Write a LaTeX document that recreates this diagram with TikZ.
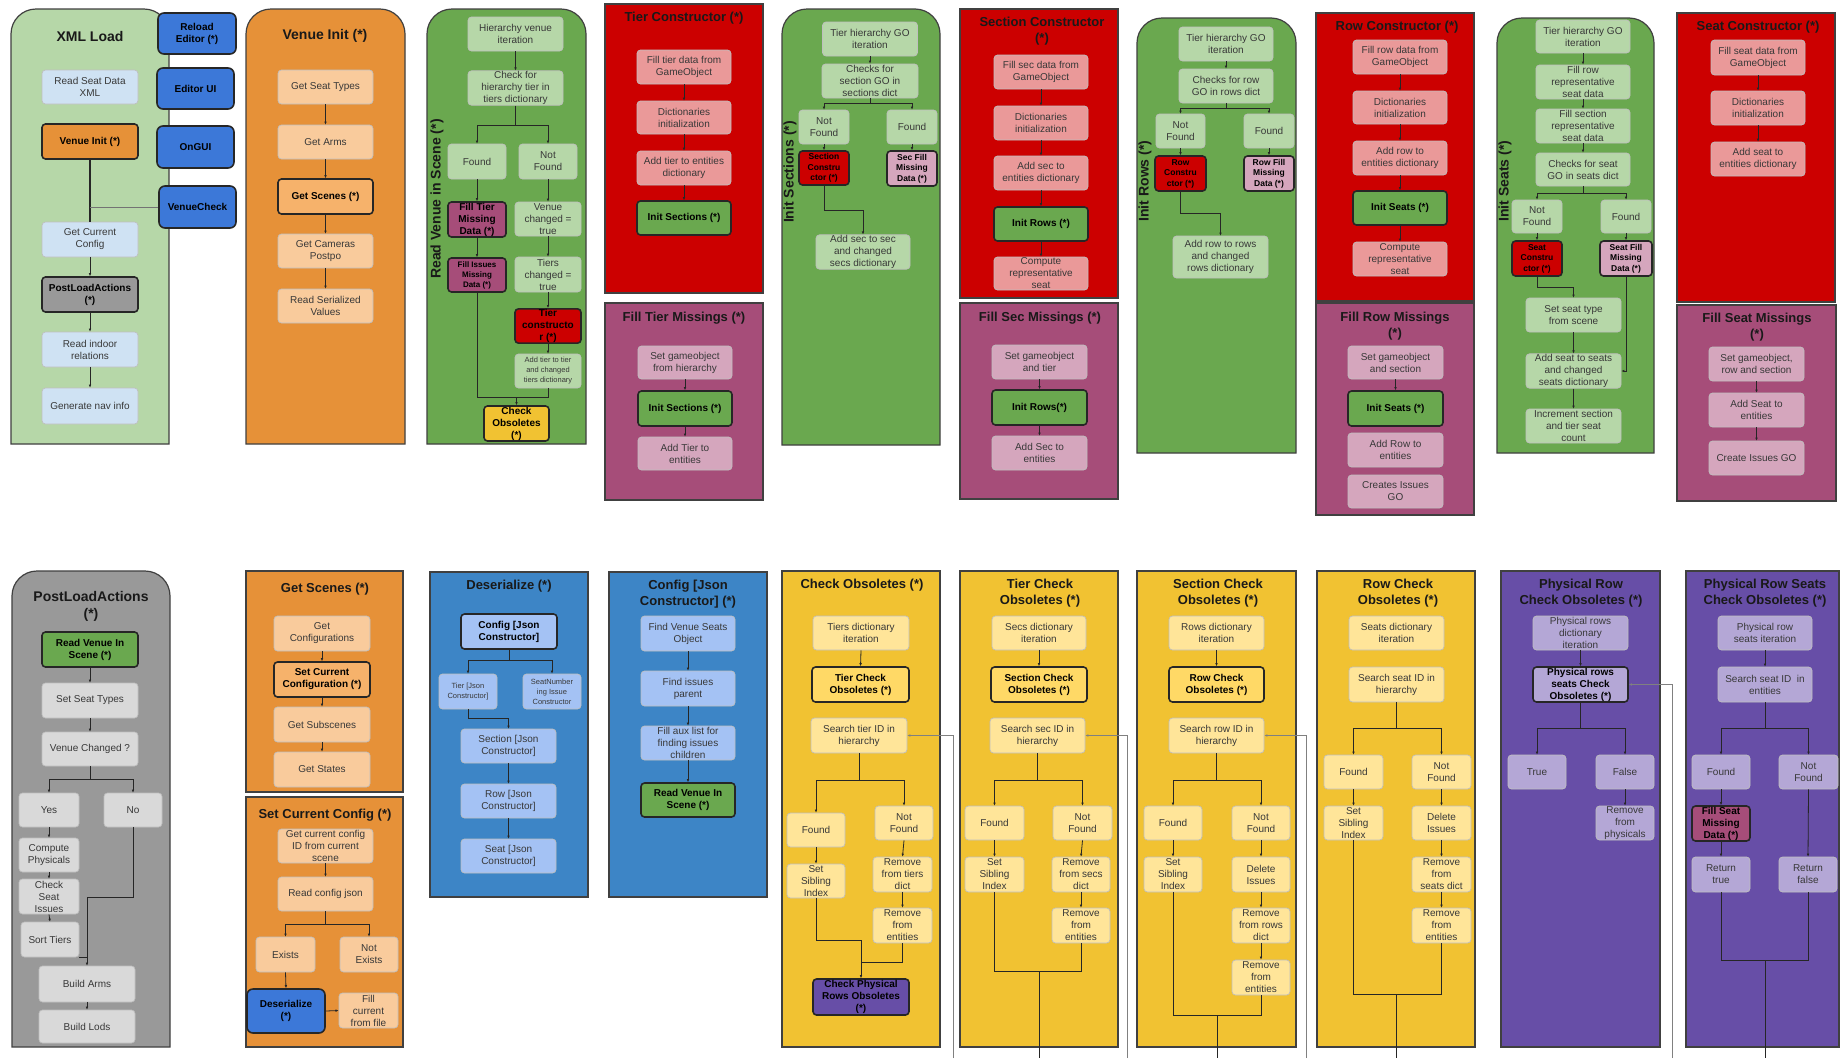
\documentclass[tikz,border=0pt]{standalone}
\usepackage{fontspec}
\setmainfont{Liberation Sans}
\usetikzlibrary{arrows.meta}
\definecolor{cLG}{HTML}{B6D7A8}
\definecolor{cG}{HTML}{6AA84F}
\definecolor{cO}{HTML}{E69138}
\definecolor{cLO}{HTML}{F9CB9C}
\definecolor{cMO}{HTML}{F6B26B}
\definecolor{cR}{HTML}{CC0000}
\definecolor{cLR}{HTML}{EA9999}
\definecolor{cM}{HTML}{A64D79}
\definecolor{cLM}{HTML}{D5A6BD}
\definecolor{cGr}{HTML}{999999}
\definecolor{cLGr}{HTML}{D9D9D9}
\definecolor{cB}{HTML}{3C78D8}
\definecolor{cBc}{HTML}{3D85C6}
\definecolor{cLB}{HTML}{A4C2F4}
\definecolor{cPB}{HTML}{CFE2F3}
\definecolor{cY}{HTML}{F1C232}
\definecolor{cLY}{HTML}{FFE599}
\definecolor{cMY}{HTML}{FFD966}
\definecolor{cP}{HTML}{674EA7}
\definecolor{cLP}{HTML}{B4A7D6}
\newcommand\rcont[5]{\draw[cont,fill=#5] (#1,#4) -- (#1,#2+25) arc[start angle=180,end angle=90,radius=25pt] -- (#3-25,#2) arc[start angle=90,end angle=0,radius=25pt] -- (#3,#4) -- cycle;}
\newcommand\scont[5]{\draw[cont,fill=#5] (#1,#2) rectangle (#3,#4);}
\tikzset{
 cont/.style={draw=black!75, line width=1.2pt},
 ttl/.style={font=\bfseries\fontsize{13}{16}\selectfont, align=center, text=black!90, inner sep=0pt},
 ttlL/.style={ttl, font=\bfseries\fontsize{14}{17}\selectfont},
 rttl/.style={ttl, font=\bfseries\fontsize{14}{17}\selectfont, rotate=90},
 bx/.style={rounded corners=3.5pt, draw=black!25, line width=0.7pt, align=center, inner sep=0.5pt, text=black!78, font=\fontsize{10}{12}\selectfont},
 bb/.style={bx, draw=black!85, line width=1.6pt, text=black, font=\bfseries\fontsize{10}{12}\selectfont},
 bbl/.style={bb, rounded corners=6pt},
 sz/.style 2 args={minimum width=#1pt, minimum height=#2pt},
 fs8/.style={font=\fontsize{7.5}{10}\selectfont},
 bfs9/.style={font=\bfseries\fontsize{8.5}{10.5}\selectfont},
 bfs8/.style={font=\bfseries\fontsize{8}{10}\selectfont},
 ln/.style={draw=black!85, line width=0.8pt},
 arr/.style={ln, -{Latex[length=3pt,width=2.6pt]}},
 exl/.style={draw=black!50, line width=0.8pt, -{Latex[length=3pt,width=2.6pt]}},
}
\begin{document}
\begin{tikzpicture}[x=1pt,y=-1pt]
\fill[white] (0,0) rectangle (1841,1058);
\useasboundingbox (0,0) rectangle (1841,1058);
% ---------- containers ----------
\rcont{11}{9}{169}{444}{cLG}
\rcont{246}{9}{405}{444}{cO}
\rcont{427}{9}{586}{444}{cG}
\scont{605}{4}{763}{293}{cR}
\scont{605}{303}{763}{500}{cM}
\rcont{782}{9}{940}{445}{cG}
\scont{960}{9}{1118}{298}{cR}
\scont{960}{303}{1118}{499}{cM}
\rcont{1137}{18}{1296}{453}{cG}
\scont{1316}{13}{1474}{301}{cR}
\scont{1316}{303}{1474}{515}{cM}
\rcont{1497}{18}{1654}{453}{cG}
\scont{1677}{13}{1835}{302}{cR}
\scont{1677}{305}{1836}{501}{cM}
\rcont{12}{571}{170}{1047}{cGr}
\scont{246}{571}{403}{792}{cO}
\scont{246}{797}{403}{1047}{cO}
\scont{430}{572}{588}{897}{cBc}
\scont{609}{572}{767}{897}{cBc}
\scont{782}{571}{940}{1047}{cY}
\scont{960}{571}{1118}{1047}{cY}
\scont{1137}{571}{1296}{1047}{cY}
\scont{1317}{571}{1475}{1047}{cY}
\scont{1501}{571}{1660}{1047}{cP}
\scont{1686}{571}{1839}{1047}{cP}
% ---------- titles ----------
\node[ttlL] (tXML) at (90,36) {XML Load};
\node[ttlL] (tVI) at (325,36) {Venue Init (*)};
\node[rttl] (tRV) at (437,199) {Read Venue in Scene (*)};
\node[ttl] (tTC) at (684,18) {Tier Constructor (*)};
\node[ttl] (tFT) at (684,318) {Fill Tier Missings (*)};
\node[rttl] (tIS) at (790,172) {Init Sections (*)};
\node[ttl] (tSC) at (1042,31) {Section Constructor\\(*)};
\node[ttl] (tFS) at (1040,318) {Fill Sec Missings (*)};
\node[rttl] (tIR) at (1145,181) {Init Rows (*)};
\node[ttl] (tRC) at (1397,27) {Row Constructor (*)};
\node[ttl] (tFR) at (1395,326) {Fill Row Missings\\(*)};
\node[rttl] (tISe) at (1505,181) {Init Seats (*)};
\node[ttl] (tSeC) at (1758,27) {Seat Constructor (*)};
\node[ttl] (tFSe) at (1757,327) {Fill Seat Missings\\(*)};
\node[ttlL] (tPL) at (91,606) {PostLoadActions\\(*)};
\node[ttl] (tGS) at (325,589) {Get Scenes (*)};
\node[ttl] (tSCC) at (325,815) {Set Current Config (*)};
\node[ttl] (tDS) at (509,586) {Deserialize (*)};
\node[ttl] (tCJ) at (688,594) {Config [Json\\Constructor] (*)};
\node[ttl] (tCO) at (862,585) {Check Obsoletes (*)};
\node[ttl] (tTCO) at (1040,593) {Tier Check\\Obsoletes (*)};
\node[ttl] (tSCO) at (1218,593) {Section Check\\Obsoletes (*)};
\node[ttl] (tRCO) at (1398,593) {Row Check\\Obsoletes (*)};
\node[ttl] (tPR) at (1581,593) {Physical Row\\Check Obsoletes (*)};
\node[ttl] (tPRS) at (1765,593) {Physical Row Seats\\Check Obsoletes (*)};
% ---------- XML Load ----------
\node[bx,fill=cPB,sz={96}{34}] (rsd) at (90,87) {Read Seat Data\\XML};
\node[bb,fill=cO,sz={96}{35}] (vinit) at (90,141.5) {Venue Init (*)};
\node[bx,fill=cPB,sz={96}{35}] (gcc) at (90,239.5) {Get Current\\Config};
\node[bb,fill=cGr,sz={96}{35}] (pla) at (90,294.5) {PostLoadActions\\(*)};
\node[bx,fill=cPB,sz={96}{35}] (rir) at (90,349.5) {Read indoor\\relations};
\node[bx,fill=cPB,sz={96}{36}] (gni) at (90,406) {Generate nav info};
\node[bbl,fill=cB,sz={78}{41}] (reload) at (197,33.5) {Reload\\Editor (*)};
\node[bbl,fill=cB,sz={77}{41}] (edui) at (195.5,88.5) {Editor UI};
\node[bbl,fill=cB,sz={77}{42}] (ongui) at (195.5,147) {OnGUI};
\node[bbl,fill=cB,sz={77}{42}] (vcheck) at (197.5,207) {VenueCheck};
\draw[ln, line width=1.2pt] (vinit.south) -- (gcc.north);
\draw[ln, draw=black!55] (vcheck.west) -- (vinit.south |- vcheck.west);
\draw[arr] (gcc.south) -- (pla.north);
\draw[arr] (pla.south) -- (rir.north);
\draw[arr] (rir.south) -- (gni.north);
% ---------- Venue Init ----------
\node[bx,fill=cLO,sz={95}{34}] (gst) at (325.5,87) {Get Seat Types};
\node[bx,fill=cLO,sz={95}{34}] (garm) at (325.5,142) {Get Arms};
\node[bb,fill=cMO,sz={95}{35}] (gsc) at (325.5,196.5) {Get Scenes (*)};
\node[bx,fill=cLO,sz={95}{34}] (gcam) at (325.5,251) {Get Cameras\\Postpo};
\node[bx,fill=cLO,sz={95}{34}] (rsv) at (325.5,306) {Read Serialized\\Values};
\draw[arr] (gst.south) -- (garm.north);
\draw[arr] (garm.south) -- (gsc.north);
\draw[arr] (gsc.south) -- (gcam.north);
\draw[arr] (gcam.south) -- (rsv.north);
% ---------- Read Venue in Scene ----------
\node[bx,fill=cLG,sz={95}{34}] (hvi) at (515.5,34) {Hierarchy venue\\iteration};
\node[bx,fill=cLG,sz={95}{34}] (chk) at (515.5,88) {Check for\\hierarchy tier in\\tiers dictionary};
\node[bx,fill=cLG,sz={58}{35}] (rfound) at (477,161.5) {Found};
\node[bx,fill=cLG,sz={58}{35}] (rnfound) at (548,161.5) {Not\\Found};
\node[bb,fill=cM,sz={58}{35}] (ftmd) at (477,219.5) {Fill Tier\\Missing\\Data (*)};
\node[bb,bfs8,fill=cM,sz={58}{34}] (fimd) at (477,275) {Fill Issues\\Missing\\Data (*)};
\node[bx,fill=cLG,sz={66}{34}] (vct) at (548,219) {Venue\\changed =\\true};
\node[bx,fill=cLG,sz={66}{35}] (tct) at (548,274.5) {Tiers\\changed =\\true};
\node[bb,fill=cR,sz={66}{34}] (tcons) at (548,326) {Tier\\constructo\\r (*)};
\node[bx,fs8,fill=cLG,sz={66}{34}] (atct) at (548,371) {Add tier to tier\\and changed\\tiers dictionary};
\node[bb,fill=cY,sz={65}{35}] (cobs) at (516.5,423.5) {Check\\Obsoletes\\(*)};
\coordinate (rvs) at (515.5,125);
\coordinate (rvj) at (516.5,397);
\draw[arr] (hvi.south) -- (chk.north);
\draw[arr] (chk.south) |- (rvs) -| (rfound.north);
\draw[arr] (rvs) -| (rnfound.north);
\draw[arr] (rfound.south) -- (ftmd.north);
\draw[arr] (ftmd.south) -- (fimd.north);
\draw[ln] (fimd.south) |- (rvj);
\draw[arr] (rnfound.south) -- (vct.north);
\draw[arr] (vct.south) -- (tct.north);
\draw[arr] (tct.south) -- (tcons.north);
\draw[arr] (tcons.south) -- (atct.north);
\draw[ln] (atct.south) |- (rvj);
\draw[arr] (rvj) -- (cobs.north);
% ---------- Tier Constructor ----------
\node[bx,fill=cLR,sz={94}{34}] (ftd) at (684,67) {Fill tier data from\\GameObject};
\node[bx,fill=cLR,sz={94}{33}] (tdi) at (684,117.5) {Dictionaries\\initialization};
\node[bx,fill=cLR,sz={94}{34}] (atte) at (684,168) {Add tier to entities\\dictionary};
\node[bb,fill=cG,sz={94}{34}] (tis) at (684,218) {Init Sections (*)};
\draw[arr] (ftd.south) -- (tdi.north);
\draw[arr] (tdi.south) -- (atte.north);
\draw[arr] (atte.south) -- (tis.north);
% ---------- Fill Tier Missings ----------
\node[bx,fill=cLM,sz={94}{33}] (ftsg) at (685,362.5) {Set gameobject\\from hierarchy};
\node[bb,fill=cG,sz={94}{35}] (ftis) at (685,408.5) {Init Sections (*)};
\node[bx,fill=cLM,sz={94}{33}] (ftat) at (685,453.5) {Add Tier to\\entities};
\draw[arr] (ftsg.south) -- (ftis.north);
\draw[arr] (ftis.south) -- (ftat.north);
% ---------- Init Sections ----------
\node[bx,fill=cLG,sz={95}{34}] (isth) at (870,39) {Tier hierarchy GO\\iteration};
\node[bx,fill=cLG,sz={96}{34}] (ischk) at (870,81) {Checks for\\section GO in\\sections dict};
\node[bx,fill=cLG,sz={50}{34}] (isnf) at (824,127) {Not\\Found};
\node[bx,fill=cLG,sz={50}{34}] (isf) at (912,127) {Found};
\node[bb,bfs9,fill=cR,sz={50}{34}] (issc) at (824,168) {Section\\Constru\\ctor (*)};
\node[bb,bfs9,fill=cLM,sz={50}{35}] (issf) at (912,168.5) {Sec Fill\\Missing\\Data (*)};
\node[bx,fill=cLG,sz={94}{34}] (isadd) at (863,252) {Add sec to sec\\and changed\\secs dictionary};
\coordinate (iss) at (870,103);
\coordinate (isb) at (824,210);
\draw[arr] (isth.south) -- (ischk.north);
\draw[arr] (ischk.south) |- (iss) -| (isnf.north);
\draw[arr] (iss) -| (isf.north);
\draw[arr] (isnf.south) -- (issc.north);
\draw[arr] (isf.south) -- (issf.north);
\draw[arr] (issc.south) |- (isb) -| (isadd.north);
% ---------- Section Constructor ----------
\node[bx,fill=cLR,sz={94}{34}] (sfd) at (1041,72) {Fill sec data from\\GameObject};
\node[bx,fill=cLR,sz={94}{34}] (sdi) at (1041,123) {Dictionaries\\initialization};
\node[bx,fill=cLR,sz={94}{34}] (sae) at (1041,173) {Add sec to\\entities dictionary};
\node[bb,fill=cG,sz={94}{34}] (sir) at (1041,224) {Init Rows (*)};
\node[bx,fill=cLR,sz={94}{33}] (scr) at (1041,273.5) {Compute\\representative\\seat};
\draw[arr] (sfd.south) -- (sdi.north);
\draw[arr] (sdi.south) -- (sae.north);
\draw[arr] (sae.south) -- (sir.north);
\draw[arr] (sir.south) -- (scr.north);
% ---------- Fill Sec Missings ----------
\node[bx,fill=cLM,sz={95}{34}] (fsg) at (1039.5,362) {Set gameobject\\and tier};
\node[bb,fill=cG,sz={95}{35}] (fsir) at (1039.5,407.5) {Init Rows(*)};
\node[bx,fill=cLM,sz={95}{34}] (fsas) at (1039.5,453) {Add Sec to\\entities};
\draw[arr] (fsg.south) -- (fsir.north);
\draw[arr] (fsir.south) -- (fsas.north);
% ---------- Init Rows ----------
\node[bx,fill=cLG,sz={94}{34}] (irth) at (1226,44) {Tier hierarchy GO\\iteration};
\node[bx,fill=cLG,sz={94}{34}] (irchk) at (1226,86) {Checks for row\\GO in rows dict};
\node[bx,fill=cLG,sz={49}{34}] (irnf) at (1180.5,131) {Not\\Found};
\node[bx,fill=cLG,sz={50}{34}] (irf) at (1269,131) {Found};
\node[bb,bfs9,fill=cR,sz={51}{35}] (irrc) at (1180.5,173.5) {Row\\Constru\\ctor (*)};
\node[bb,bfs9,fill=cLM,sz={50}{35}] (irfm) at (1269,173.5) {Row Fill\\Missing\\Data (*)};
\node[bx,fill=cLG,sz={95}{42}] (iradd) at (1220.5,257) {Add row to rows\\and changed\\rows dictionary};
\coordinate (irs) at (1226,108);
\coordinate (irb) at (1180.5,213);
\draw[arr] (irth.south) -- (irchk.north);
\draw[arr] (irchk.south) |- (irs) -| (irnf.north);
\draw[arr] (irs) -| (irf.north);
\draw[arr] (irnf.south) -- (irrc.north);
\draw[arr] (irf.south) -- (irfm.north);
\draw[arr] (irrc.south) |- (irb) -| (iradd.north);
% ---------- Row Constructor ----------
\node[bx,fill=cLR,sz={94}{34}] (rfd) at (1400,57) {Fill row data from\\GameObject};
\node[bx,fill=cLR,sz={94}{33}] (rdi) at (1400,107.5) {Dictionaries\\initialization};
\node[bx,fill=cLR,sz={94}{34}] (rae) at (1400,158) {Add row to\\entities dictionary};
\node[bb,fill=cG,sz={94}{34}] (ris) at (1400,208) {Init Seats (*)};
\node[bx,fill=cLR,sz={94}{34}] (rcr) at (1400,259) {Compute\\representative\\seat};
\draw[arr] (rfd.south) -- (rdi.north);
\draw[arr] (rdi.south) -- (rae.north);
\draw[arr] (rae.south) -- (ris.north);
\draw[arr] (ris.south) -- (rcr.north);
% ---------- Fill Row Missings ----------
\node[bx,fill=cLM,sz={95}{33}] (frg) at (1395.5,362.5) {Set gameobject\\and section};
\node[bb,fill=cG,sz={95}{35}] (fris) at (1395.5,408.5) {Init Seats (*)};
\node[bx,fill=cLM,sz={95}{34}] (frar) at (1395.5,450) {Add Row to\\entities};
\node[bx,fill=cLM,sz={95}{33}] (frci) at (1395.5,491.5) {Creates Issues\\GO};
\draw[arr] (frg.south) -- (fris.north);
% ---------- Init Seats ----------
\node[bx,fill=cLG,sz={94}{33}] (sth) at (1583,36.5) {Tier hierarchy GO\\iteration};
\node[bx,fill=cLG,sz={94}{34}] (sfr) at (1583,82) {Fill row\\representative\\seat data};
\node[bx,fill=cLG,sz={94}{34}] (sfs) at (1583,126) {Fill section\\representative\\seat data};
\node[bx,fill=cLG,sz={94}{33}] (schk) at (1583,169.5) {Checks for seat\\GO in seats dict};
\node[bx,fill=cLG,sz={50}{33}] (snf) at (1537,216.5) {Not\\Found};
\node[bx,fill=cLG,sz={50}{33}] (sf) at (1626,216.5) {Found};
\node[bb,bfs9,fill=cR,sz={50}{35}] (ssc) at (1537,258.5) {Seat\\Constru\\ctor (*)};
\node[bb,bfs9,fill=cLM,sz={52}{35}] (ssf) at (1626,258.5) {Seat Fill\\Missing\\Data (*)};
\node[bx,fill=cLG,sz={95}{34}] (sst) at (1573.5,315) {Set seat type\\from scene};
\node[bx,fill=cLG,sz={95}{34}] (sas) at (1573.5,371) {Add seat to seats\\and changed\\seats dictionary};
\node[bx,fill=cLG,sz={95}{34}] (sinc) at (1573.5,426) {Increment section\\and tier seat\\count};
\coordinate (sss) at (1583,193);
\coordinate (ssb) at (1537,287);
\draw[arr] (sth.south) -- (sfr.north);
\draw[arr] (sfr.south) -- (sfs.north);
\draw[arr] (sfs.south) -- (schk.north);
\draw[arr] (schk.south) |- (sss) -| (snf.north);
\draw[arr] (sss) -| (sf.north);
\draw[arr] (snf.south) -- (ssc.north);
\draw[arr] (sf.south) -- (ssf.north);
\draw[arr] (ssc.south) |- (ssb) -| (sst.north);
\draw[arr] (sst.south) -- (sas.north);
\draw[arr] (sas.south) -- (sinc.north);
\draw[arr] (ssf.south) |- (sas.east);
% ---------- Seat Constructor ----------
\node[bx,fill=cLR,sz={94}{35}] (sefd) at (1758,57.5) {Fill seat data from\\GameObject};
\node[bx,fill=cLR,sz={94}{34}] (sedi) at (1758,108) {Dictionaries\\initialization};
\node[bx,fill=cLR,sz={94}{34}] (seae) at (1758,159) {Add seat to\\entities dictionary};
\draw[arr] (sefd.south) -- (sedi.north);
\draw[arr] (sedi.south) -- (seae.north);
% ---------- Fill Seat Missings ----------
\node[bx,fill=cLM,sz={95}{34}] (fseg) at (1756.5,364) {Set gameobject,\\row and section};
\node[bx,fill=cLM,sz={95}{34}] (fsea) at (1756.5,410) {Add Seat to\\entities};
\node[bx,fill=cLM,sz={95}{34}] (fsec) at (1756.5,458) {Create Issues GO};
\draw[arr] (fseg.south) -- (fsea.north);
\draw[arr] (fsea.south) -- (fsec.north);
% ---------- PostLoadActions ----------
\node[bb,fill=cG,sz={96}{35}] (prv) at (90,649.5) {Read Venue In\\Scene (*)};
\node[bx,fill=cLGr,sz={96}{35}] (psst) at (90,700.5) {Set Seat Types};
\node[bx,fill=cLGr,sz={96}{34}] (pvc) at (90,749) {Venue Changed ?};
\node[bx,fill=cLGr,sz={60}{34}] (pyes) at (49,810) {Yes};
\node[bx,fill=cLGr,sz={58}{34}] (pno) at (133,810) {No};
\node[bx,fill=cLGr,sz={60}{34}] (pcp) at (49,855) {Compute\\Physicals};
\node[bx,fill=cLGr,sz={60}{35}] (pcsi) at (49,896.5) {Check\\Seat\\Issues};
\node[bx,fill=cLGr,sz={58}{35}] (pst) at (50,939.5) {Sort Tiers};
\node[bx,fill=cLGr,sz={96}{36}] (pba) at (87,984) {Build Arms};
\node[bx,fill=cLGr,sz={96}{33}] (pbl) at (87,1026.5) {Build Lods};
\coordinate (pls) at (90,779);
\coordinate (plb) at (133,897);
\draw[arr] (prv.south) -- (psst.north);
\draw[arr] (psst.south) -- (pvc.north);
\draw[arr] (pvc.south) |- (pls) -| (pyes.north);
\draw[arr] (pls) -| (pno.north);
\draw[arr] (pyes.south) -- (pcp.north);
\draw[arr] (pcp.south) -- (pcsi.north);
\draw[arr] (pcsi.south) -- (pst.north);
\draw[arr] (pno.south) |- (plb) -| (pba.north);
\draw[ln] (pst.south east) -- (pba.north |- pst.south east);
\draw[arr] (pba.south) -- (pbl.north);
% ---------- Get Scenes ----------
\node[bx,fill=cLO,sz={96}{35}] (gsgc) at (322,633.5) {Get\\Configurations};
\node[bb,fill=cMO,sz={96}{35}] (gsscc) at (322,679.5) {Set Current\\Configuration (*)};
\node[bx,fill=cLO,sz={96}{35}] (gsgs) at (322,724.5) {Get Subscenes};
\node[bx,fill=cLO,sz={96}{35}] (gsst) at (322,769.5) {Get States};
\draw[arr] (gsgc.south) -- (gsscc.north);
\draw[arr] (gsscc.south) -- (gsgs.north);
\draw[arr] (gsgs.south) -- (gsst.north);
% ---------- Set Current Config ----------
\node[bx,fill=cLO,sz={95}{34}] (sccg) at (325.5,846) {Get current config\\ID from current\\scene};
\node[bx,fill=cLO,sz={95}{34}] (scrj) at (325.5,894) {Read config json};
\node[bx,fill=cLO,sz={59}{35}] (scex) at (285.5,954.5) {Exists};
\node[bx,fill=cLO,sz={58}{35}] (scne) at (369,954.5) {Not\\Exists};
\node[bbl,fill=cB,sz={78}{44}] (scds) at (286,1011) {Deserialize\\(*)};
\node[bx,fill=cLO,sz={59}{35}] (scfc) at (368.5,1010.5) {Fill\\current\\from file};
\coordinate (scs) at (325.5,924);
\draw[arr] (sccg.south) -- (scrj.north);
\draw[arr] (scrj.south) |- (scs) -| (scex.north);
\draw[arr] (scs) -| (scne.north);
\draw[arr] (scex.south) -- (scds.north);
\draw[arr] (scds.east) -- (scfc.west);
% ---------- Deserialize ----------
\node[bb,fill=cLB,sz={96}{35}] (dcfg) at (509,631.5) {Config [Json\\Constructor]};
\node[bx,fs8,fill=cLB,sz={58}{35}] (dtier) at (468,691.5) {Tier [Json\\Constructor]};
\node[bx,fs8,fill=cLB,sz={58}{35}] (dsni) at (552,691.5) {SeatNumber\\ing Issue\\Constructor};
\node[bx,fill=cLB,sz={95}{34}] (dsec) at (508.5,746) {Section [Json\\Constructor]};
\node[bx,fill=cLB,sz={95}{34}] (drow) at (508.5,801) {Row [Json\\Constructor]};
\node[bx,fill=cLB,sz={95}{34}] (dseat) at (508.5,856) {Seat [Json\\Constructor]};
\coordinate (dss) at (509,660);
\coordinate (dtb) at (468,718);
\draw[ln] (dcfg.south) -- (dss);
\draw[arr] (dss) -| (dtier.north);
\draw[arr] (dss) -| (dsni.north);
\draw[arr] (dtier.south) |- (dtb) -| (dsec.north);
\draw[arr] (dsec.south) -- (drow.north);
\draw[arr] (drow.south) -- (dseat.north);
% ---------- Config [Json Constructor] ----------
\node[bx,fill=cLB,sz={94}{35}] (cfv) at (688,633.5) {Find Venue Seats\\Object};
\node[bx,fill=cLB,sz={94}{35}] (cfi) at (688,688.5) {Find issues\\parent};
\node[bx,fill=cLB,sz={94}{34}] (cfa) at (688,743) {Fill aux list for\\finding issues\\children};
\node[bb,fill=cG,sz={94}{34}] (crv) at (688,800) {Read Venue In\\Scene (*)};
\draw[arr] (cfv.south) -- (cfi.north);
\draw[arr] (cfi.south) -- (cfa.north);
\draw[arr] (cfa.south) -- (crv.north);
% ---------- Check Obsoletes ----------
\node[bx,fill=cLY,sz={96}{34}] (cotd) at (861,633) {Tiers dictionary\\iteration};
\node[bb,fill=cMY,sz={97}{35}] (cotc) at (860.5,684.5) {Tier Check\\Obsoletes (*)};
\node[bx,fill=cLY,sz={96}{35}] (cost) at (859,735.5) {Search tier ID in\\hierarchy};
\node[bx,fill=cLY,sz={58}{34}] (cof) at (816,830) {Found};
\node[bx,fill=cLY,sz={58}{34}] (conf) at (904,823) {Not\\Found};
\node[bx,fill=cLY,sz={58}{34}] (cosi) at (816,881) {Set\\Sibling\\Index};
\node[bx,fill=cLY,sz={59}{35}] (cort) at (902.5,874.5) {Remove\\from tiers\\dict};
\node[bx,fill=cLY,sz={59}{35}] (core) at (902.5,925.5) {Remove\\from\\entities};
\node[bb,fill=cP,sz={96}{36}] (copr) at (861,997) {Check Physical\\Rows Obsoletes\\(*)};
\coordinate (cos) at (859,780);
\coordinate (coj1) at (861,940);
\coordinate (coj2) at (861,962);
\coordinate (coe) at (953,1058);
\draw[arr] (cotd.south) -- (cotc.north);
\draw[arr] (cost.south) |- (cos) -| (cof.north);
\draw[arr] (cos) -| (conf.north);
\draw[arr] (cof.south) -- (cosi.north);
\draw[arr] (conf.south) -- (cort.north);
\draw[arr] (cort.south) -- (core.north);
\draw[ln] (cosi.south) |- (coj1);
\draw[arr] (coj1) -- (copr.north);
\draw[ln] (core.south) |- (coj2);
\draw[exl] (coe) |- (cost.east);
% ---------- Tier Check Obsoletes ----------
\node[bx,fill=cLY,sz={94}{34}] (tcsd) at (1039,633) {Secs dictionary\\iteration};
\node[bb,fill=cMY,sz={96}{35}] (tcsc) at (1039,684.5) {Section Check\\Obsoletes (*)};
\node[bx,fill=cLY,sz={95}{35}] (tcss) at (1037.5,735.5) {Search sec ID in\\hierarchy};
\node[bx,fill=cLY,sz={59}{34}] (tcf) at (994.5,823) {Found};
\node[bx,fill=cLY,sz={59}{34}] (tcnf) at (1082.5,823) {Not\\Found};
\node[bx,fill=cLY,sz={59}{35}] (tcsi) at (994.5,874.5) {Set\\Sibling\\Index};
\node[bx,fill=cLY,sz={58}{35}] (tcrs) at (1081,874.5) {Remove\\from secs\\dict};
\node[bx,fill=cLY,sz={58}{35}] (tcre) at (1081,925.5) {Remove\\from\\entities};
\coordinate (tcs) at (1037.5,780);
\coordinate (tcj) at (1039,971);
\coordinate (tcb) at (1039,1058);
\coordinate (tce) at (1127,1058);
\draw[arr] (tcsd.south) -- (tcsc.north);
\draw[arr] (tcss.south) |- (tcs) -| (tcf.north);
\draw[arr] (tcs) -| (tcnf.north);
\draw[arr] (tcf.south) -- (tcsi.north);
\draw[arr] (tcnf.south) -- (tcrs.north);
\draw[arr] (tcrs.south) -- (tcre.north);
\draw[ln] (tcsi.south) |- (tcj);
\draw[ln] (tcre.south) |- (tcj);
\draw[ln] (tcj) -- (tcb);
\draw[exl] (tce) |- (tcss.east);
% ---------- Section Check Obsoletes ----------
\node[bx,fill=cLY,sz={95}{34}] (xrd) at (1216.5,633) {Rows dictionary\\iteration};
\node[bb,fill=cMY,sz={95}{35}] (xrc) at (1216.5,684.5) {Row Check\\Obsoletes (*)};
\node[bx,fill=cLY,sz={95}{35}] (xsr) at (1216.5,735.5) {Search row ID in\\hierarchy};
\node[bx,fill=cLY,sz={58}{34}] (xf) at (1173,823) {Found};
\node[bx,fill=cLY,sz={58}{34}] (xnf) at (1261,823) {Not\\Found};
\node[bx,fill=cLY,sz={58}{35}] (xsi) at (1173,874.5) {Set\\Sibling\\Index};
\node[bx,fill=cLY,sz={58}{35}] (xdi) at (1261,874.5) {Delete\\Issues};
\node[bx,fill=cLY,sz={58}{35}] (xrr) at (1261,925.5) {Remove\\from rows\\dict};
\node[bx,fill=cLY,sz={58}{35}] (xre) at (1261,977.5) {Remove\\from\\entities};
\coordinate (xs) at (1216.5,780);
\coordinate (xj) at (1217,1015);
\coordinate (xb) at (1217,1058);
\coordinate (xe) at (1306,1058);
\draw[arr] (xrd.south) -- (xrc.north);
\draw[arr] (xsr.south) |- (xs) -| (xf.north);
\draw[arr] (xs) -| (xnf.north);
\draw[arr] (xf.south) -- (xsi.north);
\draw[arr] (xnf.south) -- (xdi.north);
\draw[arr] (xdi.south) -- (xrr.north);
\draw[arr] (xrr.south) -- (xre.north);
\draw[ln] (xsi.south) |- (xj);
\draw[ln] (xre.south) |- (xj);
\draw[ln] (xj) -- (xb);
\draw[exl] (xe) |- (xsr.east);
% ---------- Row Check Obsoletes ----------
\node[bx,fill=cLY,sz={95}{34}] (rcsd) at (1396.5,633) {Seats dictionary\\iteration};
\node[bx,fill=cLY,sz={95}{35}] (rcss) at (1396.5,684.5) {Search seat ID in\\hierarchy};
\node[bx,fill=cLY,sz={59}{34}] (rcf) at (1353.5,772) {Found};
\node[bx,fill=cLY,sz={59}{34}] (rcnf) at (1441.5,772) {Not\\Found};
\node[bx,fill=cLY,sz={59}{34}] (rcsi) at (1353.5,823) {Set\\Sibling\\Index};
\node[bx,fill=cLY,sz={59}{34}] (rcdi) at (1441.5,823) {Delete\\Issues};
\node[bx,fill=cLY,sz={59}{35}] (rcrs) at (1441.5,874.5) {Remove\\from\\seats dict};
\node[bx,fill=cLY,sz={59}{35}] (rcre) at (1441.5,925.5) {Remove\\from\\entities};
\coordinate (rcs) at (1396.5,728);
\coordinate (rcj) at (1396.5,994);
\coordinate (rcb) at (1396.5,1058);
\draw[arr] (rcss.south) |- (rcs) -| (rcf.north);
\draw[arr] (rcs) -| (rcnf.north);
\draw[arr] (rcf.south) -- (rcsi.north);
\draw[arr] (rcnf.south) -- (rcdi.north);
\draw[arr] (rcdi.south) -- (rcrs.north);
\draw[arr] (rcrs.south) -- (rcre.north);
\draw[ln] (rcsi.south) |- (rcj);
\draw[ln] (rcre.south) |- (rcj);
\draw[ln] (rcj) -- (rcb);
% ---------- Physical Row Check Obsoletes ----------
\node[bx,fill=cLP,sz={95}{34}] (qrd) at (1580.5,633) {Physical rows\\dictionary\\iteration};
\node[bb,fill=cLP,sz={95}{35}] (qrs) at (1580.5,684.5) {Physical rows\\seats Check\\Obsoletes (*)};
\node[bx,fill=cLP,sz={58}{34}] (qt) at (1537,772) {True};
\node[bx,fill=cLP,sz={58}{34}] (qf) at (1625,772) {False};
\node[bx,fill=cLP,sz={58}{34}] (qr) at (1625,823) {Remove\\from\\physicals};
\coordinate (qs) at (1580.5,728);
\coordinate (qe) at (1672,1058);
\draw[arr] (qrd.south) -- (qrs.north);
\draw[arr] (qrs.south) |- (qs) -| (qt.north);
\draw[arr] (qs) -| (qf.north);
\draw[arr] (qf.south) -- (qr.north);
\draw[exl] (qe) |- (qrs.east);
% ---------- Physical Row Seats Check Obsoletes ----------
\node[bx,fill=cLP,sz={94}{34}] (usi) at (1765,633) {Physical row\\seats iteration};
\node[bx,fill=cLP,sz={94}{35}] (uss) at (1765,684.5) {Search seat ID \ in\\entities};
\node[bx,fill=cLP,sz={58}{34}] (uf) at (1721,772) {Found};
\node[bx,fill=cLP,sz={59}{34}] (unf) at (1808.5,772) {Not\\Found};
\node[bb,fill=cM,sz={58}{35}] (ufm) at (1721,823.5) {Fill Seat\\Missing\\Data (*)};
\node[bx,fill=cLP,sz={58}{35}] (urt) at (1721,874.5) {Return\\true};
\node[bx,fill=cLP,sz={58}{35}] (urf) at (1808,874.5) {Return\\false};
\coordinate (us) at (1765,728);
\coordinate (uj) at (1765,960);
\coordinate (ub) at (1765,1058);
\draw[arr] (usi.south) -- (uss.north);
\draw[arr] (uss.south) |- (us) -| (uf.north);
\draw[arr] (us) -| (unf.north);
\draw[arr] (uf.south) -- (ufm.north);
\draw[arr] (ufm.south) -- (urt.north);
\draw[arr] (unf.south) -- (urf.north);
\draw[ln] (urt.south) |- (uj);
\draw[ln] (urf.south) |- (uj);
\draw[ln] (uj) -- (ub);
\end{tikzpicture}
\end{document}
